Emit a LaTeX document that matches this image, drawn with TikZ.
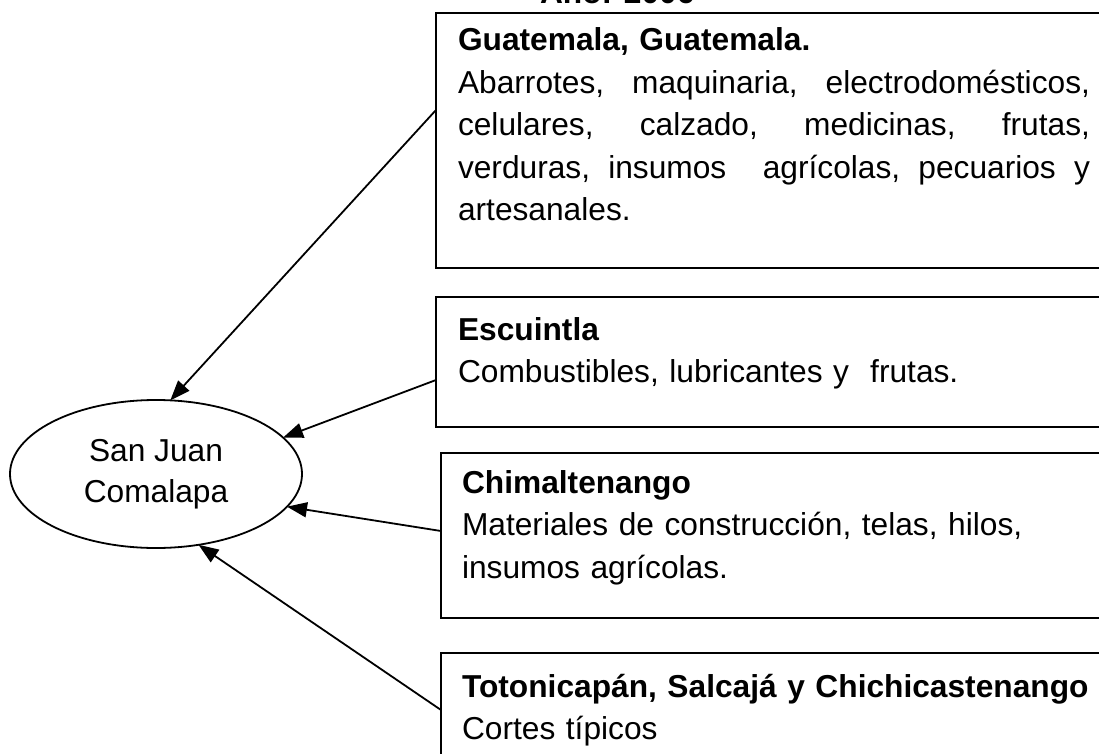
\documentclass[tikz,border=0pt]{standalone}
\usepackage{fontspec}
\setmainfont{Liberation Sans}
\usetikzlibrary{arrows.meta,shapes.geometric}

\begin{document}
\begin{tikzpicture}[y=1pt, x=1pt, yscale=-1, inner sep=0pt, outer sep=0pt,
  box/.style={draw=black, line width=1.8pt, anchor=north west, minimum width=700pt},
  txt/.style={anchor=base west, align=left, text width=640pt,
    font=\fontsize{31.7}{42.5}\selectfont},
  flow/.style={draw=black, line width=1.8pt, -{Triangle[length=20pt,width=15pt]}}]
  \useasboundingbox (0,0) rectangle (1099,754);
  \path (540,4) node[anchor=base west, font=\bfseries\fontsize{31.7}{42.5}\selectfont] (title) {Año: 2006};

  % destination
  \node[draw=black, ellipse, line width=1.8pt, minimum width=292pt, minimum height=148pt,
    align=center, font=\fontsize{31.7}{41}\selectfont] (sj) at (156,474) {San Juan\\Comalapa};

  % origins
  \node[box, minimum height=255pt] (gua) at (436,13) {};
  \node[box, minimum height=130pt] (esc) at (436,297) {};
  \node[box, minimum height=165pt] (chi) at (441,453) {};
  \node[box, minimum height=130pt] (tot) at (441,653) {};

  \node[txt] (guatxt) at (458,51) {\textbf{Guatemala, Guatemala.}\\
    \makebox[632pt][s]{Abarrotes,\hfill maquinaria,\hfill electrodomésticos,}\\
    \makebox[632pt][s]{celulares,\hfill calzado,\hfill medicinas,\hfill frutas,}\\
    \makebox[632pt][s]{verduras,\hfill insumos\hfill\hfill agrícolas,\hfill pecuarios\hfill y}\\
    artesanales.};
  \node[txt] (esctxt) at (458,340) {\textbf{Escuintla}\\
    Combustibles, lubricantes y\ \ frutas.};
  \node[txt] (chitxt) at (462,493) {\textbf{Chimaltenango}\\
    Materiales de construcción, telas, hilos,\\
    insumos agrícolas.};
  \node[txt] (tottxt) at (462,697) {\textbf{Totonicapán, Salcajá y Chichicastenango}\\
    Cortes típicos};

  % flows
  \draw[flow] (gua.west |- 0,110) -- (sj.79);
  \draw[flow] (esc.west |- 0,380) -- (sj.16);
  \draw[flow] (chi.west |- 0,531) -- (sj.-14);
  \draw[flow] (tot.west |- 0,710) -- (sj.-59);
\end{tikzpicture}
\end{document}
